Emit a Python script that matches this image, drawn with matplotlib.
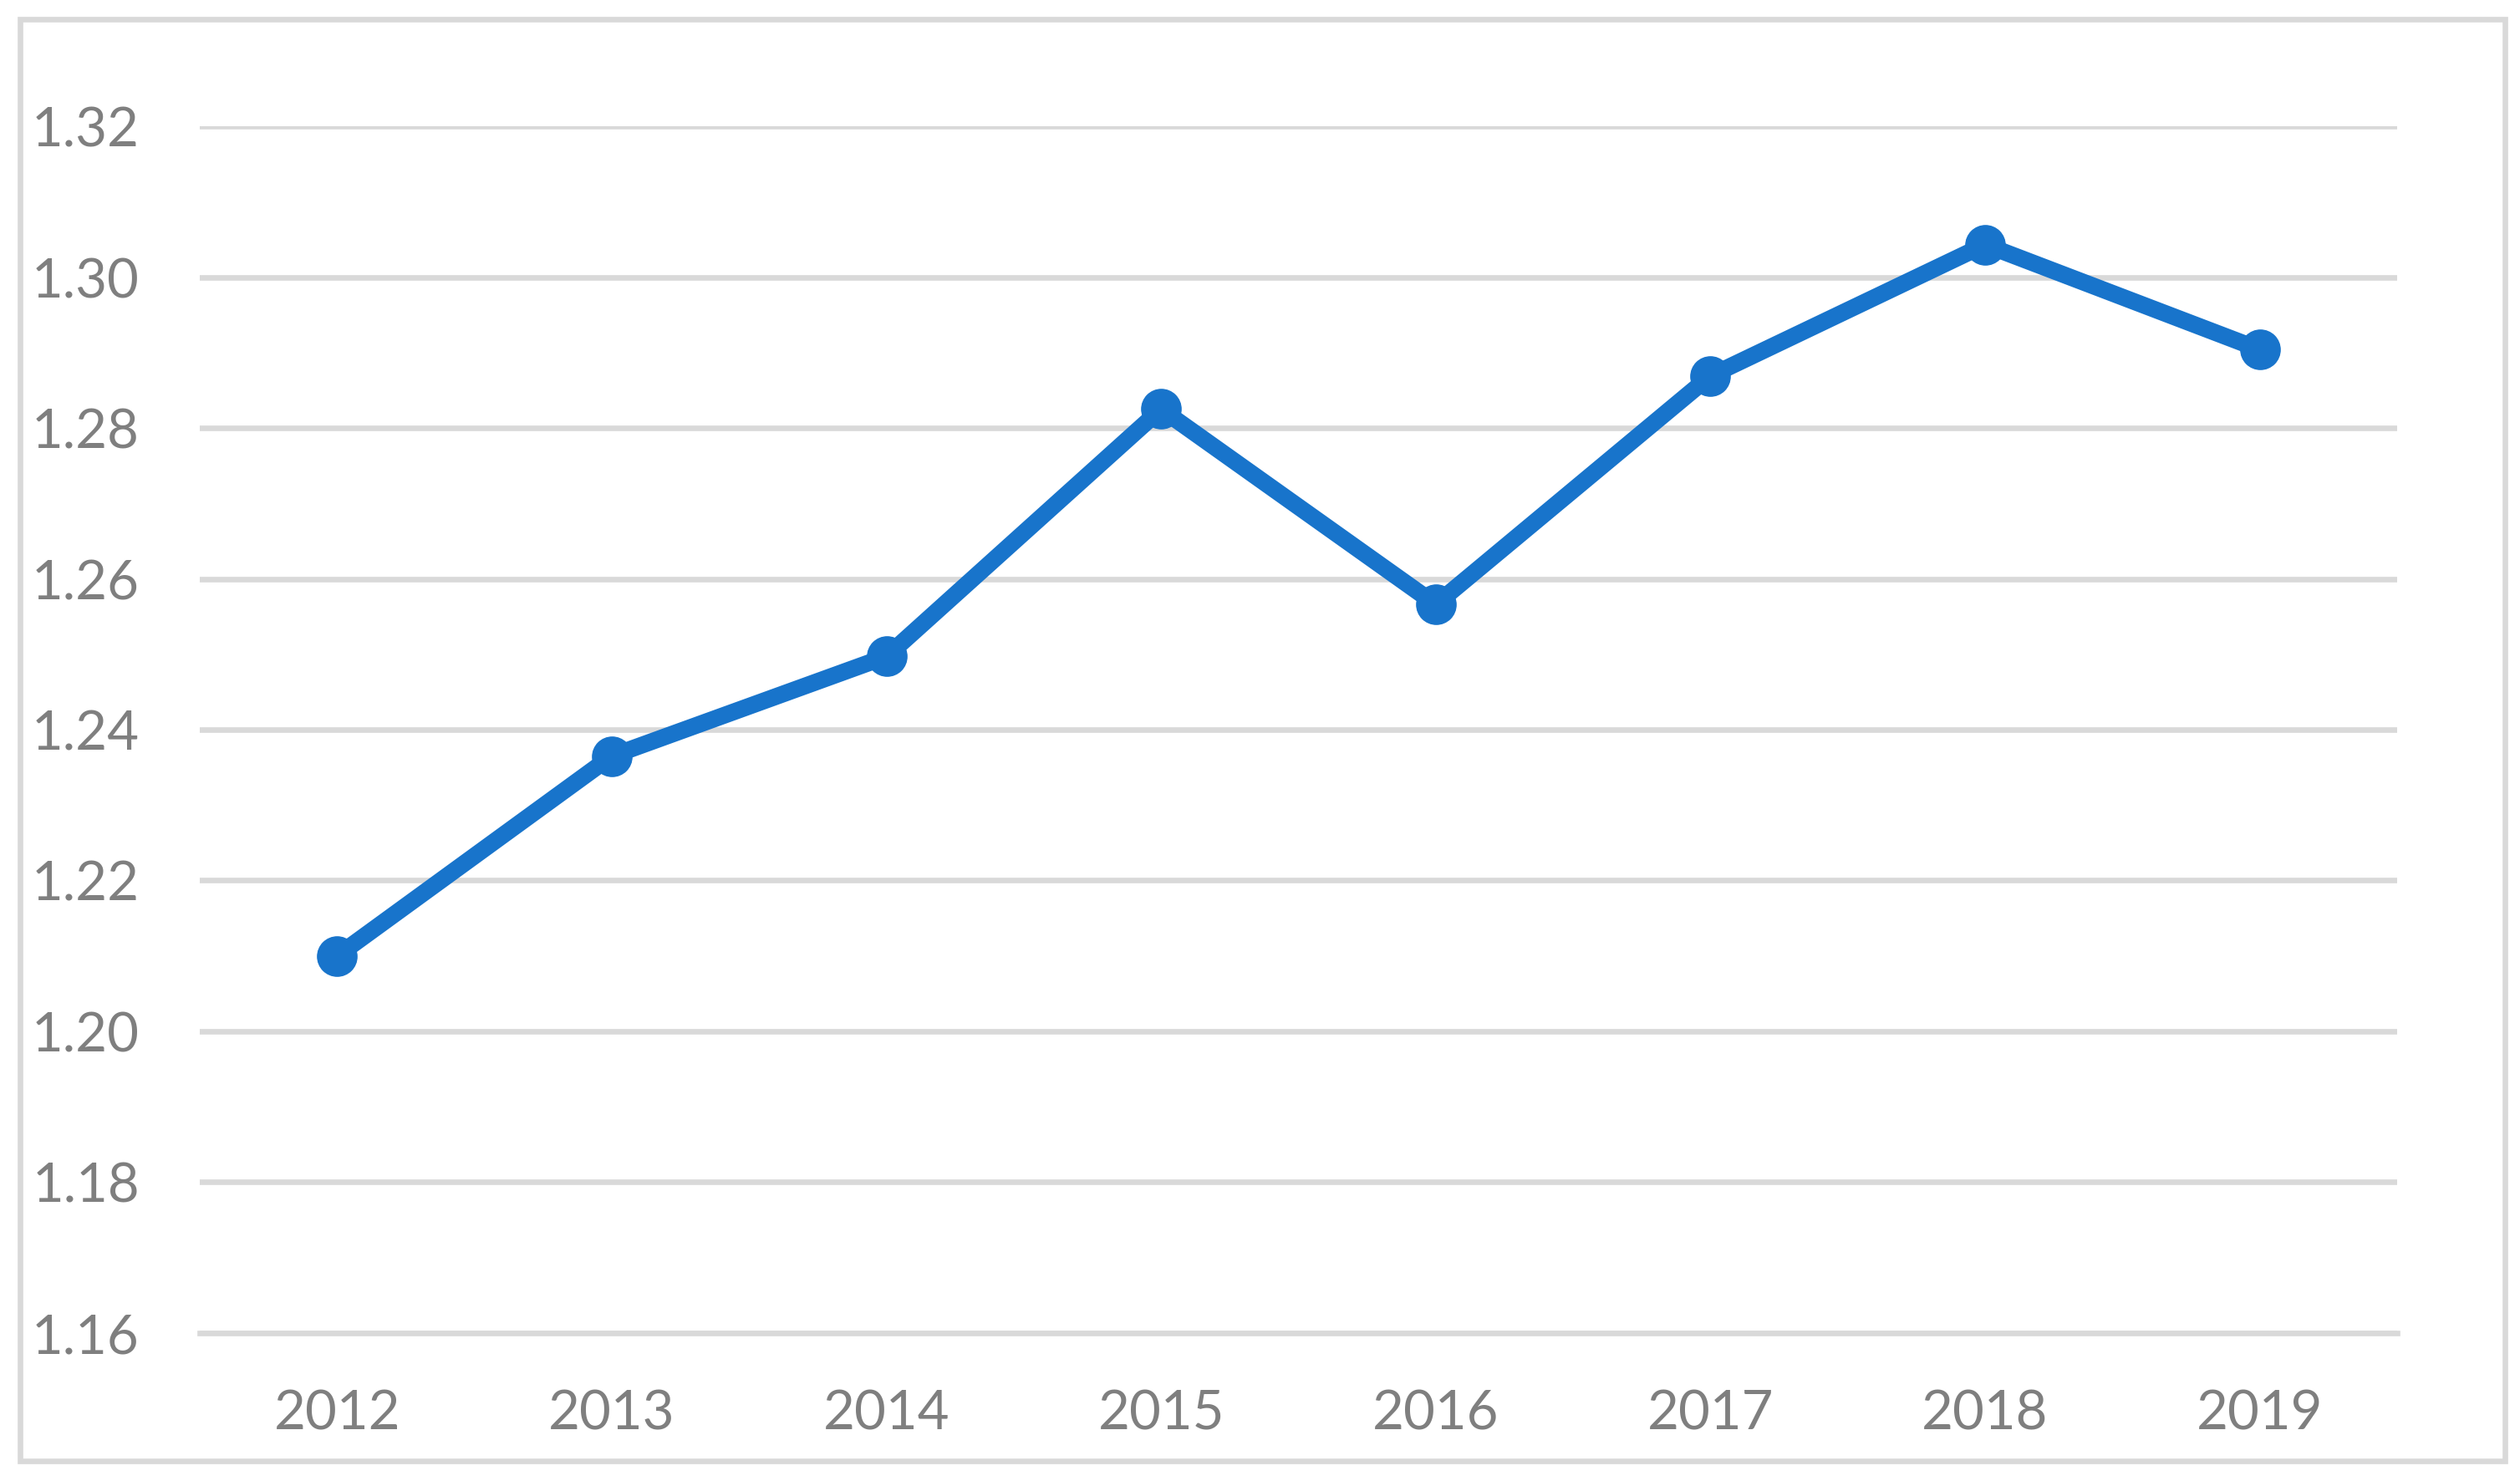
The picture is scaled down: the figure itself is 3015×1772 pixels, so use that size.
import matplotlib.pyplot as plt
from matplotlib.patches import Rectangle

years = ['2012', '2013', '2014', '2015', '2016', '2017', '2018', '2019']
values = [1.210, 1.2365, 1.2497, 1.2825, 1.2566, 1.2869, 1.3043, 1.2904]
y_ticks = [1.16, 1.18, 1.20, 1.22, 1.24, 1.26, 1.28, 1.30, 1.32]

plt.rcParams['font.family'] = ['Lato', 'DejaVu Sans']

fig = plt.figure(figsize=(30.15, 17.725), dpi=100)
ax = fig.add_axes([0.0793, 0.0999, 0.8719, 0.8146])

x = list(range(len(years)))
ax.plot(x, values, color='#1874cb', lw=14.5, marker='o', markersize=34,
        solid_capstyle='round', solid_joinstyle='round', zorder=3)

ax.set_xlim(-0.5, len(years) - 0.5)
ax.set_ylim(1.16, 1.32)
ax.set_yticks(y_ticks)
ax.set_yticklabels([f'{t:.2f}' for t in y_ticks])
ax.set_xticks(x)
ax.set_xticklabels(years)

ax.grid(axis='y', color='#d9d9d9', lw=4.8)
ax.set_axisbelow(True)
for s in ax.spines.values():
    s.set_visible(False)
ax.spines['bottom'].set_visible(True)
ax.spines['bottom'].set_color('#d9d9d9')
ax.spines['bottom'].set_linewidth(4.8)

ax.tick_params(axis='both', length=0, labelsize=47, colors='#7f7f7f')
ax.tick_params(axis='y', pad=52)
ax.tick_params(axis='x', pad=48)

# outer chart frame
fig.patches.append(Rectangle((24 / 3015, 1 - 1748 / 1772), (2997 - 24) / 3015, (1748 - 23) / 1772,
                             transform=fig.transFigure, fill=False,
                             edgecolor='#d9d9d9', lw=4.8))

fig.savefig('out.png', dpi=100, facecolor='white')
